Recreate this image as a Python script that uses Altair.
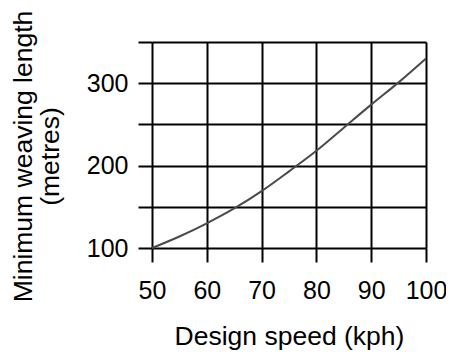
import altair as alt
import pandas as pd

speed = [50, 55, 60, 65, 70, 75, 80, 85, 90, 95, 100]
length = [100, 114, 130, 148, 169, 193, 218, 246, 274, 301, 330]

df = pd.DataFrame({"speed": speed, "length": length})

FONT = "Liberation Sans"

chart = alt.Chart(df).mark_line(color="#4a4a4a", strokeWidth=2, interpolate="monotone").encode(
    x=alt.X("speed:Q",
            scale=alt.Scale(domain=[50, 100], nice=False, zero=False),
            axis=alt.Axis(values=[50, 60, 70, 80, 90, 100], title="Design speed (kph)",
                          domain=False, grid=True, gridColor="black", gridWidth=2, gridOpacity=1,
                          ticks=True, tickSize=14, tickWidth=2, tickColor="black",
                          labelFont=FONT, labelFontSize=25, labelColor="black", labelPadding=16,
                          labelFlush=False,
                          titleFont=FONT, titleFontSize=26.5, titleFontWeight="normal",
                          titleColor="black", titlePadding=20)),
    y=alt.Y("length:Q",
            scale=alt.Scale(domain=[100, 350], nice=False, zero=False),
            axis=alt.Axis(values=[100, 150, 200, 250, 300, 350],
                          labelExpr="datum.value % 100 == 0 ? datum.label : ''",
                          title=["Minimum weaving length", "(metres)"],
                          domain=False, grid=True, gridColor="black", gridWidth=2, gridOpacity=1,
                          ticks=True, tickSize=14, tickWidth=2, tickColor="black",
                          labelFont=FONT, labelFontSize=25, labelColor="black", labelPadding=10,
                          titleFont=FONT, titleFontSize=26.5, titleFontWeight="normal",
                          titleColor="black", titlePadding=22, titleLineHeight=27, titleY=114)),
).properties(
    width=274, height=206,
    autosize=alt.AutoSizeParams(type="none"),
    padding={"left": 144, "top": 34, "right": 20, "bottom": 105},
).configure_view(stroke=None)

chart.save("out.html", embed_options={"renderer": "svg", "actions": False})
